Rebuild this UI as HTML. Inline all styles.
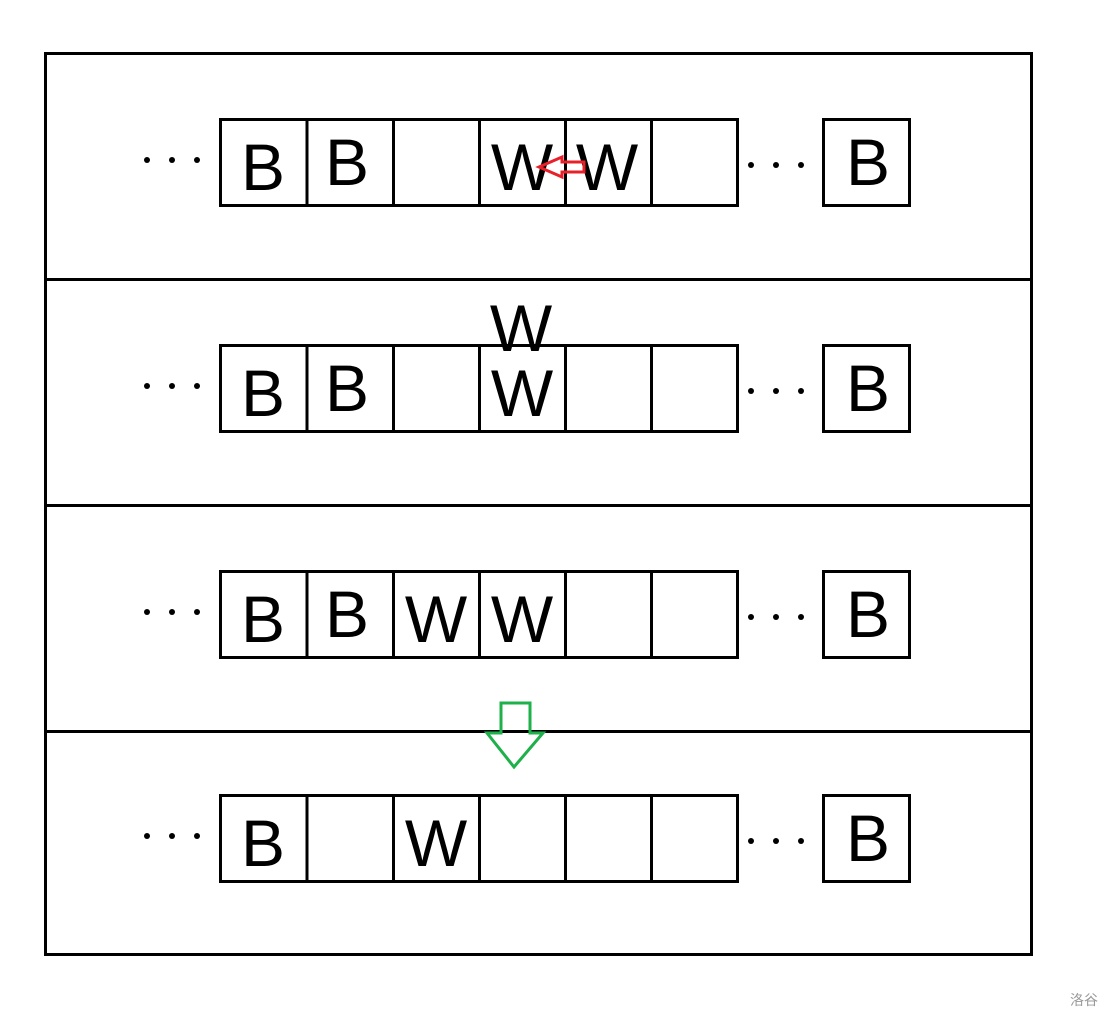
<!DOCTYPE html>
<html><head><style>body{margin:0;background:#fff}</style></head><body>
<svg width="1120" height="1024" xmlns="http://www.w3.org/2000/svg" font-family="Liberation Sans, sans-serif">
<rect x="0" y="0" width="1120" height="1024" fill="#fff"/>
<g stroke="#000" stroke-width="3" fill="none">
<rect x="45.5" y="53.5" width="986" height="901"/>
<line x1="45" y1="279.5" x2="1031" y2="279.5"/>
<line x1="45" y1="505.5" x2="1031" y2="505.5"/>
<line x1="45" y1="731.5" x2="1031" y2="731.5"/>
</g>
<g id="rows" stroke="#000" stroke-width="3" fill="none">
<g transform="translate(0,119)">
<rect x="220.5" y="0.5" width="517" height="86"/>
<line x1="307" y1="0" x2="307" y2="86"/><line x1="393.5" y1="0" x2="393.5" y2="86"/><line x1="479.5" y1="0" x2="479.5" y2="86"/><line x1="565.5" y1="0" x2="565.5" y2="86"/><line x1="651.5" y1="0" x2="651.5" y2="86"/>
<rect x="823.5" y="0.5" width="86" height="86"/>
</g>
<g transform="translate(0,345)">
<rect x="220.5" y="0.5" width="517" height="86"/>
<line x1="307" y1="0" x2="307" y2="86"/><line x1="393.5" y1="0" x2="393.5" y2="86"/><line x1="479.5" y1="0" x2="479.5" y2="86"/><line x1="565.5" y1="0" x2="565.5" y2="86"/><line x1="651.5" y1="0" x2="651.5" y2="86"/>
<rect x="823.5" y="0.5" width="86" height="86"/>
</g>
<g transform="translate(0,571)">
<rect x="220.5" y="0.5" width="517" height="86"/>
<line x1="307" y1="0" x2="307" y2="86"/><line x1="393.5" y1="0" x2="393.5" y2="86"/><line x1="479.5" y1="0" x2="479.5" y2="86"/><line x1="565.5" y1="0" x2="565.5" y2="86"/><line x1="651.5" y1="0" x2="651.5" y2="86"/>
<rect x="823.5" y="0.5" width="86" height="86"/>
</g>
<g transform="translate(0,795)">
<rect x="220.5" y="0.5" width="517" height="86"/>
<line x1="307" y1="0" x2="307" y2="86"/><line x1="393.5" y1="0" x2="393.5" y2="86"/><line x1="479.5" y1="0" x2="479.5" y2="86"/><line x1="565.5" y1="0" x2="565.5" y2="86"/><line x1="651.5" y1="0" x2="651.5" y2="86"/>
<rect x="823.5" y="0.5" width="86" height="86"/>
</g>
</g>
<g fill="#000">
<circle cx="147" cy="160" r="3"/><circle cx="172" cy="160" r="3"/><circle cx="197" cy="160" r="3"/>
<circle cx="751" cy="165" r="3"/><circle cx="776" cy="165" r="3"/><circle cx="801" cy="165" r="3"/>
<circle cx="147" cy="386" r="3"/><circle cx="172" cy="386" r="3"/><circle cx="197" cy="386" r="3"/>
<circle cx="751" cy="391" r="3"/><circle cx="776" cy="391" r="3"/><circle cx="801" cy="391" r="3"/>
<circle cx="147" cy="612" r="3"/><circle cx="172" cy="612" r="3"/><circle cx="197" cy="612" r="3"/>
<circle cx="751" cy="617" r="3"/><circle cx="776" cy="617" r="3"/><circle cx="801" cy="617" r="3"/>
<circle cx="147" cy="836" r="3"/><circle cx="172" cy="836" r="3"/><circle cx="197" cy="836" r="3"/>
<circle cx="751" cy="841" r="3"/><circle cx="776" cy="841" r="3"/><circle cx="801" cy="841" r="3"/>
</g>
<g font-size="66" text-anchor="middle" fill="#000">
<text x="263" y="190">B</text><text x="347" y="185">B</text><text x="522" y="190">W</text><text x="607" y="190">W</text><text x="868" y="185">B</text>
<text x="521" y="351">W</text>
<text x="263" y="416">B</text><text x="347" y="411">B</text><text x="522" y="416">W</text><text x="868" y="411">B</text>
<text x="263" y="642">B</text><text x="347" y="637">B</text><text x="436" y="642">W</text><text x="522" y="642">W</text><text x="868" y="637">B</text>
<text x="263" y="866">B</text><text x="436" y="866">W</text><text x="868" y="861">B</text>
</g>
<polygon points="539,167 562,157 562,162 584,162 584,172 562,172 562,177" fill="none" stroke="#e8202a" stroke-width="3"/>
<polygon points="501,703 530,703 530,733 543,733 514,767 487,733 501,733" fill="none" stroke="#1eb04a" stroke-width="3"/>
<text x="1070" y="1005" font-size="14" fill="#999" font-family="Liberation Sans, Noto Sans CJK SC, sans-serif">洛谷</text>
</svg>
</body></html>
